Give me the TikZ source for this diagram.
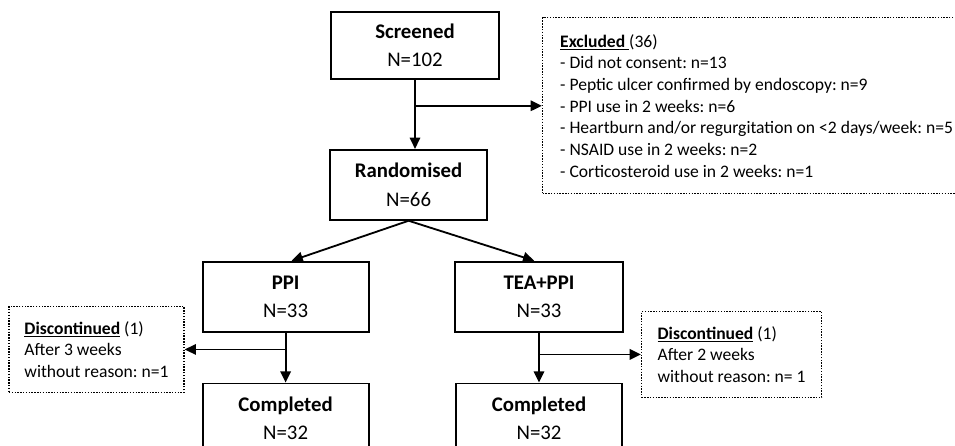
\documentclass[tikz,border=0pt]{standalone}
\usepackage{fontspec}
\setmainfont{Carlito}
\frenchspacing
\usepackage{tikz}
\usetikzlibrary{arrows.meta,positioning}

\begin{document}
\begin{tikzpicture}[
  box/.style={draw,line width=1.3pt,minimum width=4.15cm,minimum height=1.75cm,align=center,
    font=\fontsize{14.8}{20}\selectfont,execute at begin node={\rule{0pt}{13.7pt}}},
  note/.style={draw,line width=1pt,dash pattern=on 1pt off 1pt,align=left,
    font=\fontsize{12.5}{15.4}\selectfont},
  arr/.style={-{Triangle[length=2.8mm,width=2.6mm]},line width=1.3pt}
]
\useasboundingbox (0,0) rectangle (23.875,-11.15);
\node[box,minimum width=4.2cm,minimum height=1.675cm] (scr) at (10.375,-1.1375) {\textbf{Screened}\\N=102};
\node[box,below=1.725cm of scr,xshift=-0.16cm,minimum width=3.925cm] (rand) {\textbf{Randomised}\\N=66};
\node[box,below=1cm of rand,xshift=-3.075cm] (ppi) {\textbf{PPI}\\N=33};
\node[box,below=1cm of rand,xshift=3.26cm,minimum width=4.2cm] (tea) {\textbf{TEA+PPI}\\N=33};
\node[box,below=1.25cm of ppi] (doneL) {\textbf{Completed}\\N=32};
\node[box,below=1.25cm of tea] (doneR) {\textbf{Completed}\\N=32};
% side boxes
\node[note,right=1.05cm of scr.north east,anchor=north west,yshift=-0.15cm,
  minimum width=10.7cm,minimum height=4.4cm,inner xsep=0.42cm] (excl)
  {\underline{\textbf{Excluded}\ }(36)\\
   - Did not consent: n=13\\
   - Peptic ulcer confirmed by endoscopy: n=9\\
   - PPI use in 2 weeks: n=6\\
   - Heartburn and/or regurgitation on <2 days/week: n=5\\
   - NSAID use in 2 weeks: n=2\\
   - Corticosteroid use in 2 weeks: n=1};
\node[note,left=0.425cm of ppi.north west,anchor=north east,yshift=-1.125cm,
  minimum width=4.375cm,minimum height=2.15cm] (discL)
  {\underline{\textbf{Discontinued}} (1)\\After 3 weeks\\without reason: n=1};
\node[note,right=0.425cm of tea.north east,anchor=north west,yshift=-1.25cm,
  minimum width=4.5cm,minimum height=2.15cm] (discR)
  {\underline{\textbf{Discontinued}} (1)\\After 2 weeks\\without reason: n= 1};
% connectors
\draw[arr] (scr.south) -- (scr.south |- rand.north);
\draw[arr] (scr.south |- excl.west) -- (excl.west);
\draw[arr] (rand.south) -- ([xshift=0.15cm]ppi.north);
\draw[arr] (rand.south) -- ([xshift=-0.12cm]tea.north);
\draw[arr] (ppi.south) -- (doneL.north);
\draw[arr] (ppi.south |- discL.east) -- (discL.east);
\draw[arr] (tea.south) -- (doneR.north);
\draw[arr] (tea.south |- discR.west) -- (discR.west);
\end{tikzpicture}
\end{document}
